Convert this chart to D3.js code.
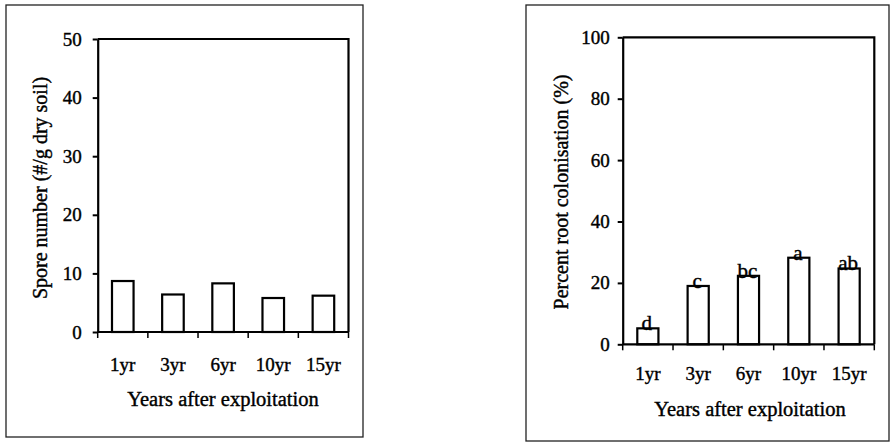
<!DOCTYPE html>
<html>
<head>
<meta charset="utf-8">
<script src="https://cdn.jsdelivr.net/npm/d3@7"></script>
<style>
  html, body { margin: 0; padding: 0; background: #fff; }
  svg text { font-family: "Liberation Serif", "Times New Roman", serif; fill: #000; }
</style>
</head>
<body>
<svg id="chart" width="891" height="442"></svg>
<script>
const categories = ["1yr", "3yr", "6yr", "10yr", "15yr"];
const sporeValues = [8.7, 6.4, 8.3, 5.8, 6.2];
const colonValues = [5.2, 19.0, 22.3, 28.2, 24.7];
const colonLetters = ["d", "c", "bc", "a", "ab"];
const sporeTicks = [0, 10, 20, 30, 40, 50];
const colonTicks = [0, 20, 40, 60, 80, 100];

const svg = d3.select("#chart");
const FONT = "Liberation Serif";

// outer frames
svg.append("rect").attr("x", 6).attr("y", 5).attr("width", 357).attr("height", 432)
  .attr("fill", "none").attr("stroke", "#222").attr("stroke-width", 1.3);
svg.append("rect").attr("x", 526).attr("y", 5).attr("width", 363).attr("height", 436)
  .attr("fill", "none").attr("stroke", "#222").attr("stroke-width", 1.3);

function panel(opt) {
  const g = svg.append("g");
  const x = d3.scaleBand().domain(categories).range([opt.left, opt.right]).padding(0);
  const y = d3.scaleLinear().domain([0, opt.max]).range([opt.bottom, opt.top]);
  const bw = x.bandwidth() * opt.barFrac;

  // bars
  g.selectAll("rect.bar").data(opt.values).enter().append("rect")
    .attr("class", "bar")
    .attr("x", (d, i) => x(categories[i]) + x.bandwidth() / 2 - bw / 2)
    .attr("y", d => y(d))
    .attr("width", bw)
    .attr("height", d => y(0) - y(d))
    .attr("fill", "#fff").attr("stroke", "#000").attr("stroke-width", 2.2);

  // plot frame (top and right)
  g.append("path")
    .attr("d", `M${opt.left},${opt.top}H${opt.right}V${opt.bottom}`)
    .attr("fill", "none").attr("stroke", "#000").attr("stroke-width", 2.2);

  // y axis
  const ya = g.append("g").attr("transform", `translate(${opt.left},0)`)
    .call(d3.axisLeft(y).tickValues(opt.ticks).tickSize(5).tickPadding(opt.yPad).tickSizeOuter(0));
  ya.attr("font-family", FONT);
  ya.select(".domain").attr("stroke-width", 2.2);
  ya.selectAll(".tick line").attr("stroke-width", 2);
  ya.selectAll("text").attr("font-size", 19).attr("fill", "#000")
    .attr("font-family", FONT).attr("stroke", "#000").attr("stroke-width", 0.4);

  // x axis line and ticks at band edges
  g.append("line").attr("x1", opt.left).attr("x2", opt.right)
    .attr("y1", y(0)).attr("y2", y(0)).attr("stroke", "#000").attr("stroke-width", 2.2);
  const edges = categories.map(c => x(c)).concat([x.range()[1]]);
  g.selectAll("line.xt").data(edges).enter().append("line")
    .attr("class", "xt")
    .attr("x1", d => d).attr("x2", d => d)
    .attr("y1", y(0)).attr("y2", y(0) + 6)
    .attr("stroke", "#000").attr("stroke-width", 1.5);

  // x tick labels
  g.selectAll("text.xl").data(categories).enter().append("text")
    .attr("class", "xl")
    .attr("x", d => x(d) + x.bandwidth() / 2)
    .attr("y", opt.xLabelY)
    .attr("text-anchor", "middle").attr("font-size", 19)
    .attr("stroke", "#000").attr("stroke-width", 0.4)
    .text(d => d);

  // axis titles
  g.append("text")
    .attr("x", opt.xTitleX).attr("y", opt.xTitleY)
    .attr("text-anchor", "middle").attr("font-size", 20.5)
    .attr("stroke", "#000").attr("stroke-width", 0.4)
    .text("Years after exploitation");
  g.append("text")
    .attr("transform", `translate(${opt.yTitleX},${opt.yTitleY}) rotate(-90)`)
    .attr("text-anchor", "middle").attr("font-size", 20)
    .attr("stroke", "#000").attr("stroke-width", 0.4)
    .text(opt.yTitle);

  if (opt.letters) {
    g.selectAll("text.lt").data(opt.values).enter().append("text")
      .attr("class", "lt")
      .attr("x", (d, i) => x(categories[i]) + x.bandwidth() / 2 - 1)
      .attr("y", d => y(d) + 2)
      .attr("text-anchor", "middle").attr("font-size", 21)
      .attr("stroke", "#000").attr("stroke-width", 0.4)
      .text((d, i) => opt.letters[i]);
  }
}

panel({
  left: 97.7, right: 348.5, top: 39, bottom: 332, max: 50,
  values: sporeValues, ticks: sporeTicks, barFrac: 0.43, yPad: 11,
  xLabelY: 371, xTitleX: 223, xTitleY: 406,
  yTitleX: 47, yTitleY: 188, yTitle: "Spore number (#/g dry soil)"
});

panel({
  left: 622.7, right: 874.3, top: 37.3, bottom: 344.3, max: 100,
  values: colonValues, ticks: colonTicks, barFrac: 0.42, yPad: 8,
  xLabelY: 380, xTitleX: 750, xTitleY: 416,
  yTitleX: 568, yTitleY: 192, yTitle: "Percent root colonisation (%)",
  letters: colonLetters
});
</script>
</body>
</html>
